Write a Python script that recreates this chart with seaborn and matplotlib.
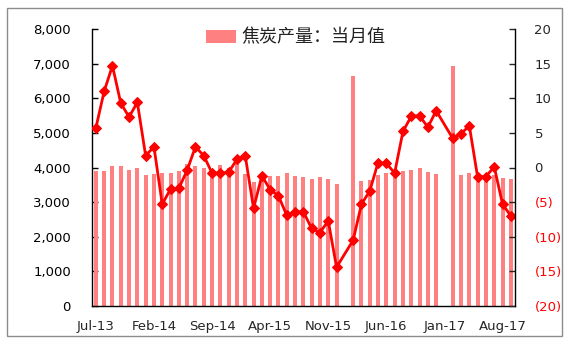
import numpy as np
import pandas as pd
import matplotlib
matplotlib.use("Agg")
import matplotlib.pyplot as plt
from matplotlib.patches import Rectangle, Patch
from matplotlib.ticker import FixedLocator, FuncFormatter
import seaborn as sns

# Monthly coke output (10k t) and YoY growth (%), Jul-2013 .. Sep-2017
months = pd.date_range("2013-07-01", periods=51, freq="MS").strftime("%b-%y").tolist()
production = [3900, 3900, 4030, 4030, 3940, 3980, 3770, 3800, 3830, 3840,
              3910, 4100, 4030, 3990, 3960, 4070, 4000, 4100, 3820, 3590,
              3780, 3750, 3760, 3830, 3760, 3740, 3680, 3720, 3670, 3520,
              np.nan, 6650, 3610, 3640, 3780, 3850, 3890, 3910, 3930, 4000,
              3880, 3810, np.nan, 6940, 3770, 3830, 3790, 3790, 3790, 3700,
              3660]
yoy = [5.7, 11.0, 14.7, 9.3, 7.3, 9.4, 1.7, 3.0, -5.3, -3.1,
       -3.0, -0.4, 3.0, 1.7, -0.8, -0.8, -0.7, 1.2, 1.7, -5.9,
       -1.2, -3.2, -4.1, -6.9, -6.4, -6.4, -8.8, -9.4, -7.7, -14.4,
       np.nan, -10.5, -5.3, -3.4, 0.7, 0.6, -0.8, 5.2, 7.4, 7.5,
       5.8, 8.2, np.nan, 4.2, 4.9, 6.0, -1.4, -1.3, 0.1, -5.3,
       -7.0]
label_step = 7
legend_label = "焦炭产量：当月值"

df = pd.DataFrame({"idx": np.arange(len(months)), "month": months,
                   "production": production, "yoy": yoy})

sns.set_style("white")
plt.rcParams["font.family"] = ["DejaVu Sans"]

BAR = "#ff8080"
LINE = "#ff0000"

fig = plt.figure(figsize=(5.77, 3.49), dpi=100)
W, H = 577, 349
ax = fig.add_axes([91.7 / W, 1 - 306 / H, (515 - 91.7) / W, (306 - 29) / H])

bars = df.dropna(subset=["production"])
sns.barplot(data=bars, x="idx", y="production", native_scale=True,
            color=BAR, saturation=1, width=0.47, errorbar=None, ax=ax,
            linewidth=0)

ax2 = ax.twinx()
line = df.dropna(subset=["yoy"])
sns.lineplot(data=line, x="idx", y="yoy", ax=ax2, color=LINE, linewidth=2.0,
             marker="D", markersize=5.6, markeredgecolor=LINE,
             markerfacecolor=LINE)

n = len(months)
ax.set_xlim(-0.5, n - 0.5)
ax.set_ylim(0, 8000)
ax2.set_ylim(-20, 20)

# left axis
ax.yaxis.set_major_locator(FixedLocator(np.arange(0, 8001, 1000)))
ax.yaxis.set_major_formatter(FuncFormatter(lambda v, p: f"{int(v):,}"))
ax.tick_params(axis="y", direction="in", length=4, width=1, pad=15,
               labelsize=9.5, colors="black")

# x axis: labels centred on categories, tick marks on boundaries
label_pos = list(range(0, n, label_step))
ax.set_xticks(label_pos)
ax.set_xticklabels([months[i] for i in label_pos])
ax.set_xticks([p - 0.5 for p in label_pos[1:]], minor=True)
ax.tick_params(axis="x", which="major", length=0, pad=10, labelsize=9.5)
ax.tick_params(axis="x", which="minor", direction="in", length=4, width=1)
ax.set_xlabel("")
ax.set_ylabel("")

# right axis
ax2.yaxis.set_major_locator(FixedLocator(np.arange(-20, 21, 5)))
ax2.yaxis.set_major_formatter(
    FuncFormatter(lambda v, p: f"{int(v)}" if v >= 0 else f"({int(-v)})"))
ax2.tick_params(axis="y", direction="in", length=4, width=1, pad=14,
                labelsize=9.5)
for t in ax2.get_yticklabels():
    if t.get_text().startswith("("):
        t.set_color(LINE)
ax2.set_ylabel("")

for a in (ax, ax2):
    for s in a.spines.values():
        s.set_color("black")
        s.set_linewidth(1.0)
    a.spines["top"].set_visible(False)
ax.spines["right"].set_visible(False)
ax2.spines["left"].set_visible(False)
ax2.spines["bottom"].set_visible(False)

handle = Patch(facecolor=BAR, edgecolor="none")
leg = ax.legend([handle], [legend_label], loc="upper center",
                bbox_to_anchor=(0.482, 1.06), frameon=False,
                handlelength=1.7, handleheight=0.75, handletextpad=0.3,
                prop={"family": ["Noto Sans CJK SC", "DejaVu Sans"],
                      "size": 13})
for t in leg.get_texts():
    t.set_color("#222222")
if ax2.get_legend() is not None:
    ax2.get_legend().remove()

# outer frame
fig.patches.append(Rectangle((7 / W, 1 - 336 / H), (562 - 7) / W, (336 - 8) / H,
                             transform=fig.transFigure, fill=False,
                             edgecolor="#8c8c8c", linewidth=1.0))

fig.savefig("out.png", dpi=100)
